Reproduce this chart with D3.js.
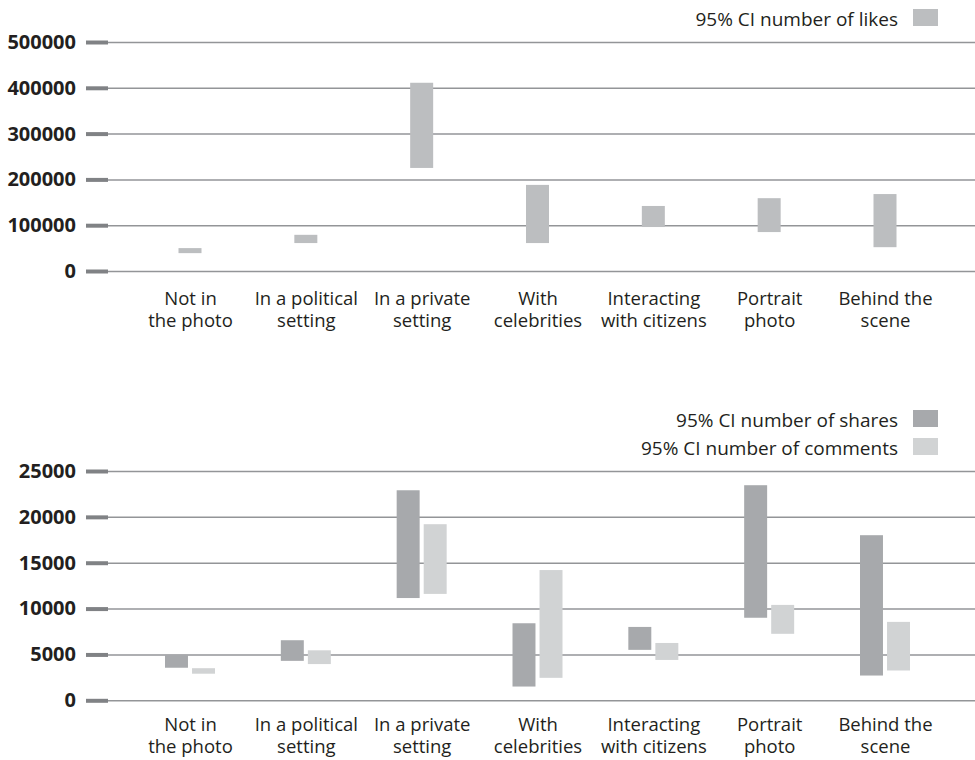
<!DOCTYPE html>
<html>
<head>
<meta charset="utf-8">
<script src="https://cdn.jsdelivr.net/npm/d3@7"></script>
<style>
	body { margin: 0; background: #fff; }
	svg { display: block; font-family: "Open Sans", sans-serif; }
</style>
</head>
<body>
<svg width="975" height="760"></svg>
<script>
// categories, each split in the two lines shown under the axis
const categories = ["Not in the photo", "In a political setting", "In a private setting", "With celebrities",
	"Interacting with citizens", "Portrait photo", "Behind the scene"];
const categoryLines = [["Not in", "the photo"], ["In a political", "setting"], ["In a private", "setting"],
	["With", "celebrities"], ["Interacting", "with citizens"], ["Portrait", "photo"], ["Behind the", "scene"]];

// 95% CI of likes (top chart)
const likesLow = [39000, 61000, 225000, 61000, 96000, 85000, 52000];
const likesHigh = [50000, 79000, 411000, 188000, 142000, 159000, 168000];

// 95% CI of shares and comments (bottom chart)
const sharesLow = [3550, 4300, 11150, 1500, 5500, 9000, 2700];
const sharesHigh = [4950, 6550, 22900, 8400, 8000, 23450, 18000];
const commentsLow = [2900, 3950, 11600, 2450, 4400, 7250, 3250];
const commentsHigh = [3500, 5450, 19200, 14200, 6250, 10400, 8550];

const likesTicks = [0, 100000, 200000, 300000, 400000, 500000];
const countTicks = [0, 5000, 10000, 15000, 20000, 25000];

const colLikes = "#bcbec0";
const colShares = "#a7a9ac";
const colComments = "#d1d3d4";
const textCol = "#231f20";

const svg = d3.select("svg");
const width = 975;
const axisX = 108;
const barW = 23;

const x = d3.scalePoint().domain(categories).range([190, 885]);

function drawAxes(y, ticks, labelY) {
	const g = svg.append("g").attr("transform", `translate(${axisX},0)`)
		.call(d3.axisLeft(y).tickValues(ticks).tickSize(-(width - axisX)).tickPadding(32).tickFormat(d3.format("d")));
	g.select(".domain").remove();
	g.selectAll(".tick line").attr("stroke", "#939598").attr("stroke-width", 1.5);
	g.selectAll(".tick").append("line")
		.attr("x1", -22).attr("x2", 0)
		.attr("stroke", "#808285").attr("stroke-width", 4);
	g.selectAll(".tick text")
		.attr("fill", textCol).attr("font-size", 20).attr("font-weight", "bold")
		.attr("font-family", "Open Sans, sans-serif");

	const xg = svg.append("g").attr("transform", `translate(0,${labelY})`)
		.call(d3.axisBottom(x).tickSize(0).tickPadding(0));
	xg.select(".domain").remove();
	xg.selectAll(".tick text").each(function (d, i) {
		const t = d3.select(this).text(null).attr("y", 0).attr("dy", null)
			.attr("fill", textCol).attr("font-size", 18.5).attr("font-family", "Open Sans, sans-serif");
		categoryLines[i].forEach((line, k) => {
			t.append("tspan").attr("x", 0).attr("y", k * 22).text(line);
		});
	});
}

function legendItem(label, color, yText) {
	svg.append("text").attr("x", 898).attr("y", yText).attr("text-anchor", "end")
		.attr("fill", textCol).attr("font-size", 19).text(label);
	svg.append("rect").attr("x", 913).attr("y", yText - 17).attr("width", 25).attr("height", 17)
		.attr("fill", color);
}

// ---- top chart: likes
const yLikes = d3.scaleLinear().domain([0, 500000]).range([271, 42]);
drawAxes(yLikes, likesTicks, 305);

svg.append("g").selectAll("rect")
	.data(categories)
	.enter()
	.append("rect")
	.attr("x", (d) => x(d) - barW / 2)
	.attr("width", barW)
	.attr("y", (d, i) => yLikes(likesHigh[i]))
	.attr("height", (d, i) => yLikes(likesLow[i]) - yLikes(likesHigh[i]))
	.attr("fill", colLikes);

legendItem("95% CI number of likes", colLikes, 26);

// ---- bottom chart: shares and comments
const yCount = d3.scaleLinear().domain([0, 25000]).range([700.3, 471]);
drawAxes(yCount, countTicks, 731);

const sub = d3.scaleBand().domain(["shares", "comments"]).range([-25, 25]).paddingInner(0.15);
const series = [
	{ key: "shares", low: sharesLow, high: sharesHigh, color: colShares },
	{ key: "comments", low: commentsLow, high: commentsHigh, color: colComments }
];

series.forEach((s) => {
	svg.append("g").selectAll("rect")
		.data(categories)
		.enter()
		.append("rect")
		.attr("x", (d) => x(d) + sub(s.key))
		.attr("width", sub.bandwidth())
		.attr("y", (d, i) => yCount(s.high[i]))
		.attr("height", (d, i) => yCount(s.low[i]) - yCount(s.high[i]))
		.attr("fill", s.color);
});

legendItem("95% CI number of shares", colShares, 427);
legendItem("95% CI number of comments", colComments, 455);
</script>
</body>
</html>
